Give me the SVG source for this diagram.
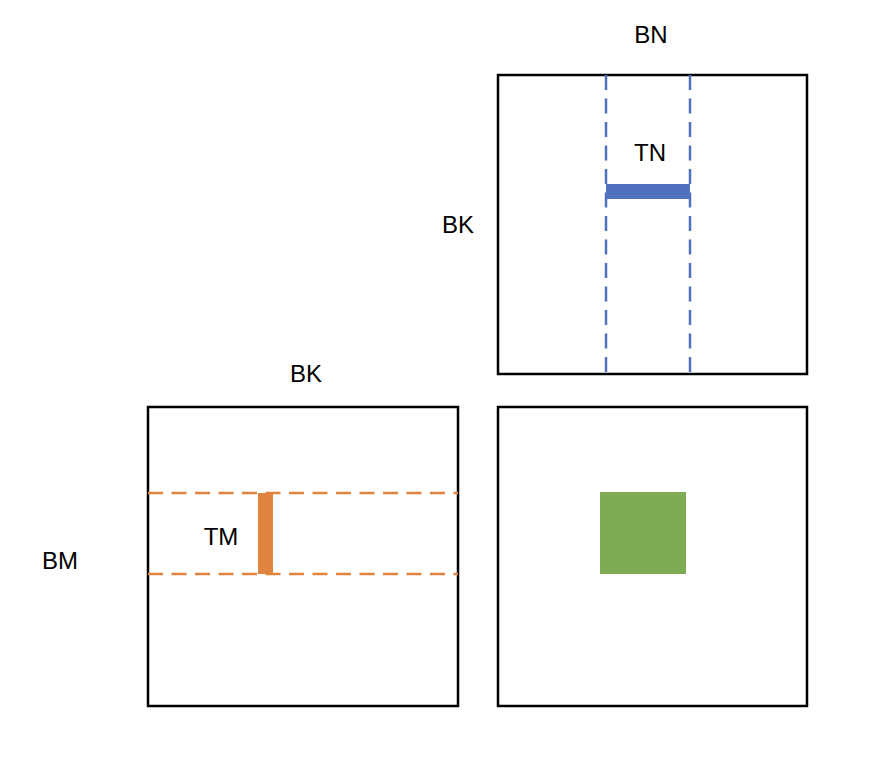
<svg xmlns="http://www.w3.org/2000/svg" width="880" height="774" viewBox="0 0 880 774">
<style>
.box{fill:none;stroke:#000;stroke-width:2.5}
.lbl{font-family:"Liberation Sans",Arial,sans-serif;font-size:24px;fill:#000;text-anchor:middle}
.dblue{stroke:#4F71BE;stroke-width:2.5;stroke-dasharray:15 8.5;fill:none}
.dorange{stroke:#E0843F;stroke-width:2.5;stroke-dasharray:15 8.5;fill:none}
</style>
<rect width="880" height="774" fill="#fff"/>
<g id="matrixB">
<rect class="box" x="498" y="75" width="309" height="299"/>
<line class="dblue" x1="606" y1="75" x2="606" y2="374"/>
<line class="dblue" x1="690" y1="75" x2="690" y2="374"/>
<rect x="606" y="184" width="84" height="15" fill="#4F71BE"/>
<text class="lbl" x="651" y="43">BN</text>
<text class="lbl" x="458" y="233">BK</text>
<text class="lbl" x="650" y="161">TN</text>
</g>
<g id="matrixA">
<rect class="box" x="148" y="407" width="310" height="299"/>
<line class="dorange" x1="148" y1="493" x2="458" y2="493"/>
<line class="dorange" x1="148" y1="574" x2="458" y2="574"/>
<rect x="258" y="493" width="15" height="81" fill="#E0843F"/>
<text class="lbl" x="306" y="382">BK</text>
<text class="lbl" x="60" y="569">BM</text>
<text class="lbl" x="221" y="545">TM</text>
</g>
<g id="matrixC">
<rect class="box" x="498" y="407" width="309" height="299"/>
<rect x="600" y="492" width="86" height="82" fill="#7FAB56"/>
</g>
<g id="connectors"></g>
</svg>
